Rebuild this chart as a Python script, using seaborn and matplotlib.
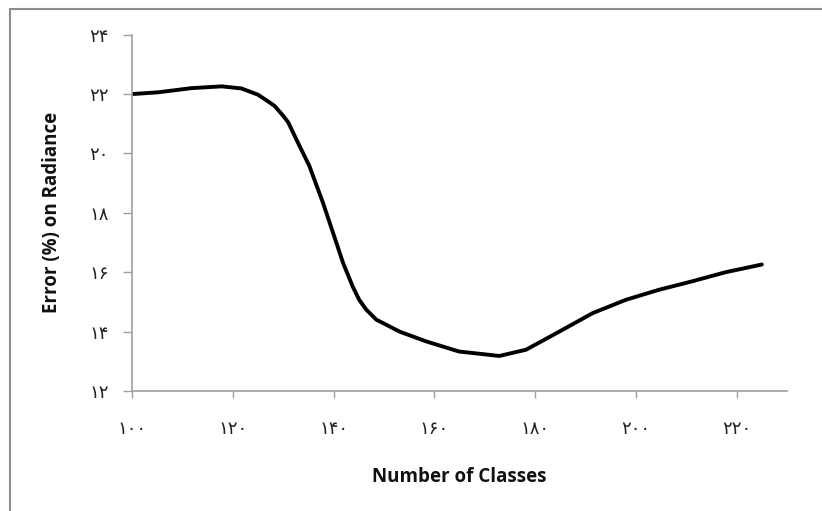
import matplotlib
matplotlib.use("Agg")
import matplotlib.pyplot as plt
import seaborn as sns
import pandas as pd
from matplotlib.patches import Rectangle

classes = [100, 105.2, 111.8, 117.8, 121.7, 125.0, 127.3, 128.3, 130.0, 131.0,
           132.6, 135.2, 137.9, 139.9, 141.9, 143.8, 145.1, 146.5, 148.5, 149.8,
           153.1, 158.4, 164.9, 172.9, 178.2, 184.8, 191.4, 198.0, 204.6, 211.1,
           217.8, 225.0]
error = [22.0, 22.06, 22.2, 22.26, 22.19, 21.98, 21.72, 21.6, 21.27, 21.05,
         20.48, 19.58, 18.34, 17.33, 16.31, 15.52, 15.07, 14.74, 14.4, 14.29,
         14.0, 13.67, 13.33, 13.18, 13.39, 14.0, 14.62, 15.07, 15.41, 15.69,
         16.0, 16.26]

x_ticks = [100, 120, 140, 160, 180, 200, 220]
y_ticks = [12, 14, 16, 18, 20, 22, 24]

persian = str.maketrans("0123456789", "۰۱۲۳۴۵۶۷۸۹")

def fa(n):
    return str(n).translate(persian)

df = pd.DataFrame({"classes": classes, "error": error})

sns.set_style("white")
plt.rcParams['font.family'] = ['DejaVu Sans']

fig = plt.figure(figsize=(8.22, 5.11), dpi=100)
ax = fig.add_axes([132/822, 1 - 391/511, (787-132)/822, (391-34.7)/511])

sns.lineplot(data=df, x="classes", y="error", color="black", linewidth=2.8,
             ax=ax, sort=False, solid_joinstyle="round", solid_capstyle="round")

ax.set_xlim(100, 230)
ax.set_ylim(12, 24)
ax.set_xticks(x_ticks)
ax.set_yticks(y_ticks)
ax.set_xticklabels([fa(v) for v in x_ticks], fontsize=13)
ax.set_yticklabels([fa(v) for v in y_ticks], fontsize=13)

for s in ["top", "right"]:
    ax.spines[s].set_visible(False)
for s in ["left", "bottom"]:
    ax.spines[s].set_color("#a0a0a0")
    ax.spines[s].set_linewidth(1.2)

ax.tick_params(axis="y", left=True, direction="out", length=6.5, width=1.0,
               color="#a0a0a0", pad=10, labelcolor="#222222")
ax.tick_params(axis="x", bottom=True, direction="out", length=5, width=1.0,
               color="#a0a0a0", pad=16, labelcolor="#222222")

ax.set_xlabel("Number of Classes", fontsize=13.5, fontweight="bold",
              family=["Open Sans", "DejaVu Sans"], color="#111111")
ax.set_ylabel("Error (%) on Radiance", fontsize=13.5, fontweight="bold",
              family=["Open Sans", "DejaVu Sans"], color="#111111")
ax.xaxis.set_label_coords(0.5, -(467 - 391) / (391 - 34.7))
ax.yaxis.set_label_coords(-(132 - 62) / (787 - 132), 0.5)

# outer chart frame
fig.patches.append(Rectangle((10/822, -0.1), 1.2, 1 - 9/511 + 0.1,
                             transform=fig.transFigure, fill=False,
                             edgecolor="#8c8c8c", linewidth=1.5))

fig.savefig("out.png", dpi=100)
